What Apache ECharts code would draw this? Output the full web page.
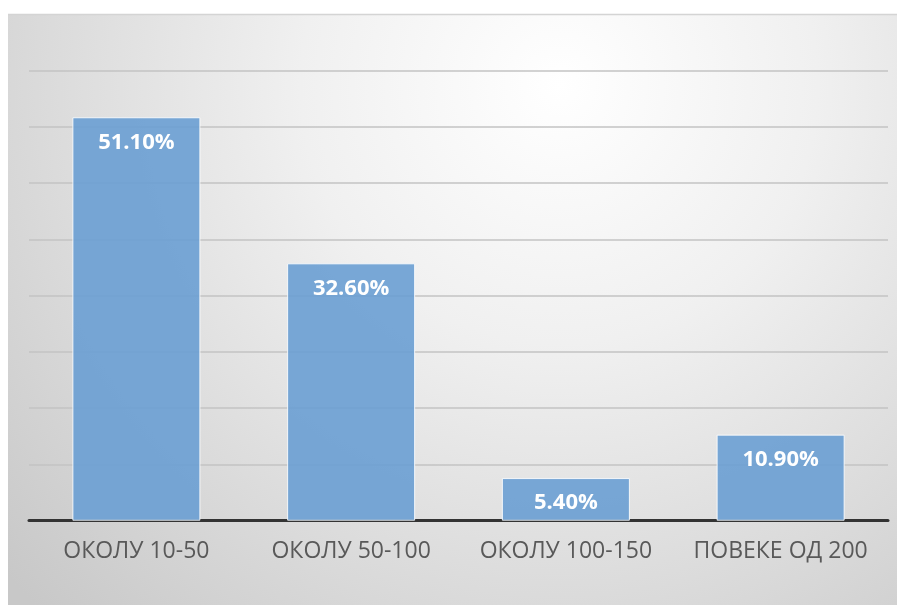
<!DOCTYPE html>
<html>
<head>
<meta charset="utf-8">
<script src="https://cdn.jsdelivr.net/npm/echarts@6/dist/echarts.min.js"></script>
<style>
html,body{margin:0;padding:0;background:#fff;}
#c{width:897px;height:605px;}
</style>
</head>
<body>
<div id="c"></div>
<script>
const categories = ['ОКОЛУ 10-50', 'ОКОЛУ 50-100', 'ОКОЛУ 100-150', 'ПОВЕКЕ ОД 200'];
const values = [51.1, 32.6, 5.4, 10.9];
const labels = ['51.10%', '32.60%', '5.40%', '10.90%'];

const chart = echarts.init(document.getElementById('c'), null, {renderer: 'canvas'});
chart.setOption({
  animation: false,
  backgroundColor: '#ffffff',
  graphic: [
    {
      type: 'rect', z: -10, silent: true,
      shape: {x: 8, y: 14, width: 889, height: 591},
      style: {
        fill: {
          type: 'radial', x: 0.62, y: 0.12, r: 1.25,
          colorStops: [
            {offset: 0, color: '#ffffff'},
            {offset: 0.35, color: '#f0f0f0'},
            {offset: 1, color: '#c8c8c8'}
          ]
        }
      }
    },
    {
      type: 'line', z: -9, silent: true,
      shape: {x1: 8, y1: 14.5, x2: 897, y2: 14.5},
      style: {stroke: '#d4d4d4', lineWidth: 1.5}
    }
  ],
  grid: {left: 29, right: 9, top: 70.7, bottom: 84.3},
  xAxis: {
    type: 'category',
    data: categories,
    axisLine: {show: true, lineStyle: {color: '#333333', width: 3}},
    axisTick: {show: false},
    axisLabel: {
      interval: 0,
      color: '#595959', fontSize: 23, margin: 19,
      fontFamily: '"Open Sans", sans-serif'
    }
  },
  yAxis: {
    type: 'value',
    min: 0, max: 57, interval: 7.125,
    axisLabel: {show: false},
    axisLine: {show: false},
    axisTick: {show: false},
    splitLine: {lineStyle: {color: '#c3c3c3', width: 1.5}}
  },
  series: [{
    type: 'bar',
    data: values,
    barWidth: 128,
    itemStyle: {color: 'rgba(106,159,211,0.9)', borderColor: 'rgba(255,255,255,0.85)', borderWidth: 1},
    label: {
      show: true, position: 'insideTop', distance: 14,
      color: '#ffffff', fontWeight: 'bold', fontSize: 22,
      fontFamily: '"Open Sans", sans-serif',
      formatter: p => labels[p.dataIndex]
    }
  }]
});
</script>
</body>
</html>
